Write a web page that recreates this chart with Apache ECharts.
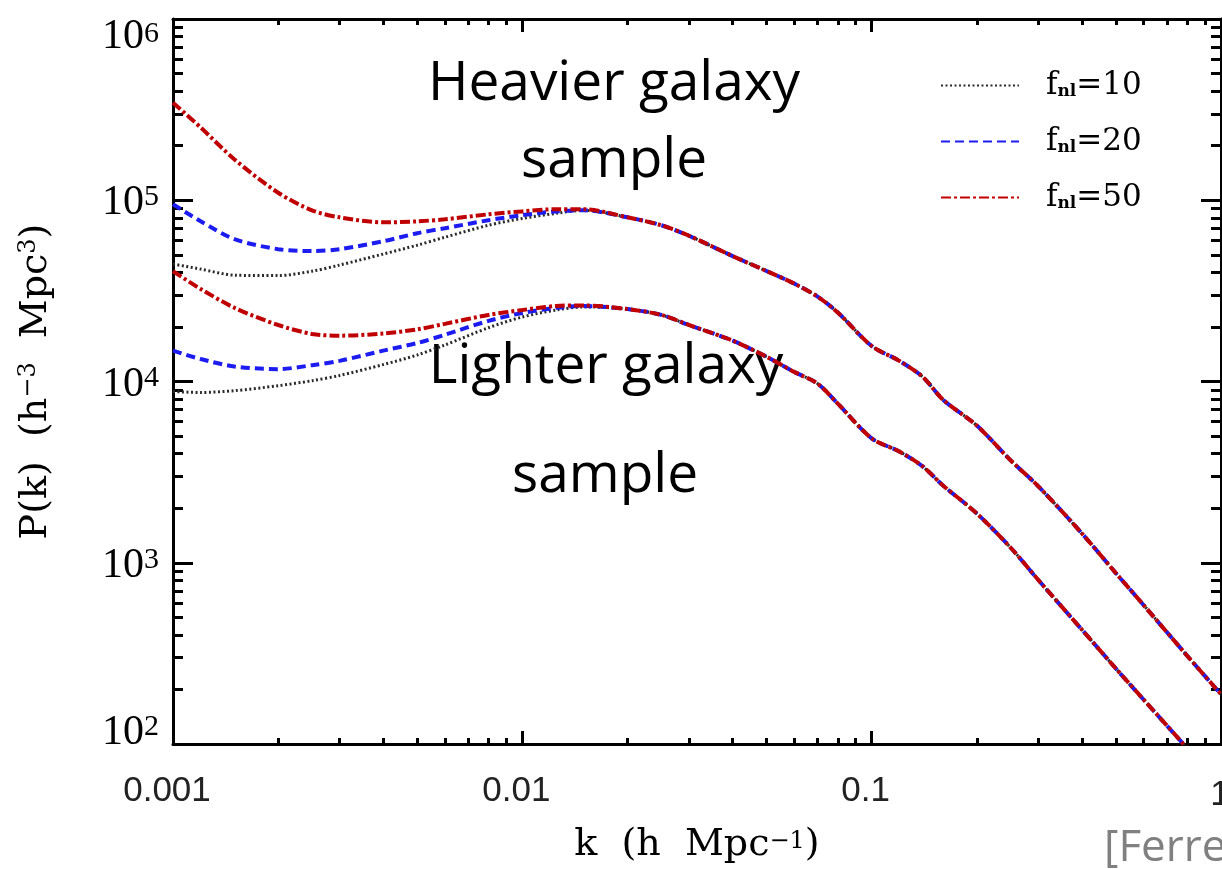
<!DOCTYPE html>
<html><head><meta charset="utf-8">
<script src="https://cdn.jsdelivr.net/npm/echarts@6/dist/echarts.min.js"></script>
<style>html,body{margin:0;padding:0;background:#fff}#c{width:1222px;height:869px}</style>
</head><body><div id="c"></div>
<script>
// ---- data (k in h/Mpc, P in h^-3 Mpc^3) ----
const kValues = [0.001, 0.0012, 0.0015, 0.002, 0.0025, 0.003, 0.004, 0.005, 0.006, 0.008, 0.01, 0.0125, 0.015,
                 0.02, 0.025, 0.03, 0.04, 0.05, 0.06, 0.07, 0.08, 0.1, 0.12, 0.14, 0.16, 0.2, 0.25, 0.3, 0.4, 0.5, 0.6, 0.8, 1.0];
// large-scale part (k = 0.001 ... 0.015)
const heavyFnl10 = [4.45e4, 4.17e4, 3.86e4, 3.84e4, 4.06e4, 4.39e4, 5.05e4, 5.65e4, 6.25e4, 7.28e4, 7.94e4, 8.47e4, 8.8e4];
const heavyFnl20 = [9.5e4, 7.66e4, 6.10e4, 5.37e4, 5.24e4, 5.37e4, 5.94e4, 6.58e4, 7.01e4, 7.76e4, 8.27e4, 8.68e4, 8.8e4];
const heavyFnl50 = [3.45e5, 2.52e5, 1.68e5, 1.10e5, 8.8e4, 8.05e4, 7.55e4, 7.65e4, 7.85e4, 8.36e4, 8.68e4, 8.92e4, 8.92e4];
const lightFnl10 = [8.8e3, 8.7e3, 8.9e3, 9.48e3, 1.01e4, 1.08e4, 1.24e4, 1.40e4, 1.59e4, 1.98e4, 2.27e4, 2.48e4, 2.58e4];
const lightFnl20 = [1.48e4, 1.33e4, 1.21e4, 1.17e4, 1.23e4, 1.30e4, 1.48e4, 1.63e4, 1.81e4, 2.16e4, 2.39e4, 2.55e4, 2.61e4];
const lightFnl50 = [4.06e4, 3.24e4, 2.55e4, 2.05e4, 1.83e4, 1.79e4, 1.84e4, 1.94e4, 2.08e4, 2.33e4, 2.48e4, 2.61e4, 2.63e4];
// small-scale part (k = 0.02 ... 1), identical for all f_nl
const heavyTail = [8.05e4, 7.28e4, 6.37e4, 4.92e4, 4.07e4, 3.47e4, 2.94e4, 2.40e4, 1.57e4, 1.30e4, 1.06e4, 7.94e3, 5.71e3, 3.67e3, 2.64e3, 1.45e3, 877, 585, 307, 188];
const lightTail = [2.51e4, 2.33e4, 2.05e4, 1.68e4, 1.37e4, 1.13e4, 9.73e3, 7.55e3, 4.86e3, 4.11e3, 3.40e3, 2.67e3, 1.87e3, 1.21e3, 803, 427, 261, 176, 94.7, 57.7];

const fnlValues = ['10', '20', '50'];
const xTickLabels = ['0.001', '0.01', '0.1', '1'];
const yTickExponents = ['2', '3', '4', '5', '6'];

// ---- styles ----
const seriesColors = ['#2a2a2a', '#1c1cf0', '#c00000'];
const dashPatterns = [[2, 2.5], [9, 5], [10, 3, 3, 3]];
const lineWidths = [3, 4, 4];

// minor tick positions in log10 space (for the tick-only helper axes)
const xMinorLog = [], yMinorLog = [];
[-3, -2, -1].forEach(d => { for (let m = 2; m <= 9; m++) xMinorLog.push(d + Math.log10(m)); });
[2, 3, 4, 5].forEach(d => { for (let m = 2; m <= 9; m++) yMinorLog.push(d + Math.log10(m)); });

const heavy = [heavyFnl10, heavyFnl20, heavyFnl50];
const light = [lightFnl10, lightFnl20, lightFnl50];

const series = [];
fnlValues.forEach((f, i) => {
  [heavy[i].concat(heavyTail), light[i].concat(lightTail)].forEach(vals => {
    series.push({
      type: 'line', name: 'fnl=' + f, xAxisIndex: 0, yAxisIndex: 0,
      data: kValues.map((k, j) => [k, vals[j]]),
      symbol: 'none', showSymbol: false, smooth: 0.3, silent: true,
      lineStyle: { color: seriesColors[i], width: lineWidths[i], type: dashPatterns[i], cap: 'butt' },
      itemStyle: { color: seriesColors[i] }
    });
  });
});

const black = '#000';
const noSplit = { splitLine: { show: false }, minorTick: { show: false }, minorSplitLine: { show: false } };

function xMajor(pos, label) {
  return Object.assign({
    type: 'log', logBase: 10, min: 0.001, max: 1, position: pos,
    axisLine: { show: true, onZero: false, lineStyle: { color: black, width: 3 } },
    axisTick: { show: true, inside: true, length: 13, lineStyle: { color: black, width: 3 } },
    axisLabel: label ? {
      show: true, margin: 30, padding: [0, 12, 0, 0], showMaxLabel: false,
      fontFamily: 'Liberation Sans', fontSize: 35, color: '#222',
      formatter: v => xTickLabels[Math.round(Math.log10(v)) + 3]
    } : { show: false }
  }, noSplit);
}
function xMinorAx(pos) {
  return Object.assign({
    type: 'value', min: -3, max: 0, position: pos,
    axisLine: { show: false, onZero: false },
    axisTick: { show: true, inside: true, length: 6, customValues: xMinorLog, lineStyle: { color: black, width: 3 } },
    axisLabel: { show: false }
  }, noSplit);
}
function yMajor(pos, label) {
  return Object.assign({
    type: 'log', logBase: 10, min: 100, max: 1e6, position: pos,
    axisLine: { show: true, onZero: false, lineStyle: { color: black, width: 3 } },
    axisTick: { show: true, inside: true, length: 20, lineStyle: { color: black, width: 3 } },
    axisLabel: label ? {
      show: true, margin: 14, color: '#000', verticalAlignMaxLabel: 'top',
      formatter: v => {
        const idx = Math.round(Math.log10(v)) - 2;
        const e = yTickExponents[idx];
        if (idx === 4) return '{bt|10}{st|' + e + '}';
        if (idx === 0) return '{b|10}{s|' + e + '}\n{g2| }';
        return '{g3| }\n{b|10}{s|' + e + '}';
      },
      rich: {
        b: { fontFamily: 'Liberation Serif', fontSize: 42, lineHeight: 42, color: '#000' },
        s: { fontFamily: 'Liberation Serif', fontSize: 30, lineHeight: 30, verticalAlign: 'top', color: '#000' },
        bt: { fontFamily: 'Liberation Serif', fontSize: 42, lineHeight: 36, color: '#000' },
        st: { fontFamily: 'Liberation Serif', fontSize: 30, lineHeight: 26, verticalAlign: 'top', color: '#000' },
        g2: { fontSize: 10, lineHeight: 22 },
        g3: { fontSize: 4, lineHeight: 6 }
      }
    } : { show: false }
  }, noSplit);
}
function yMinorAx(pos) {
  return Object.assign({
    type: 'value', min: 2, max: 6, position: pos,
    axisLine: { show: false, onZero: false },
    axisTick: { show: true, inside: true, length: 10, customValues: yMinorLog, lineStyle: { color: black, width: 3 } },
    axisLabel: { show: false }
  }, noSplit);
}

const xAxes = [xMajor('bottom', true), xMinorAx('bottom'), xMajor('top', false), xMinorAx('top')];
xAxes[0].name = 'k  (h  Mpc{sup|−1})';
xAxes[0].nameLocation = 'middle';
xAxes[0].nameGap = 86;
xAxes[0].nameTextStyle = { fontFamily: 'DejaVu Serif', fontSize: 38, lineHeight: 30, color: '#000',
  rich: { sup: { fontFamily: 'DejaVu Serif', fontSize: 24, lineHeight: 20, verticalAlign: 'top', color: '#000' } } };

const yAxes = [yMajor('left', true), yMinorAx('left'), yMajor('right', false), yMinorAx('right')];
yAxes[0].name = 'P(k)  (h{sup|−3}  Mpc{sup|3})';
yAxes[0].nameLocation = 'middle';
yAxes[0].nameGap = 118;
yAxes[0].nameRotate = 90;
yAxes[0].nameTextStyle = { fontFamily: 'DejaVu Serif', fontSize: 38, color: '#000',
  rich: { sup: { fontFamily: 'DejaVu Serif', fontSize: 24, verticalAlign: 'top', color: '#000' } } };

const chart = echarts.init(document.getElementById('c'));
chart.setOption({
  animation: false,
  grid: { left: 173, right: 1, top: 19, bottom: 122 },
  xAxis: xAxes,
  yAxis: yAxes,
  legend: {
    show: true, orient: 'vertical', left: 935, top: 65, itemWidth: 78, itemHeight: 14, itemGap: 25,
    selectedMode: false,
    data: fnlValues.map(f => 'fnl=' + f),
    itemStyle: { opacity: 0, borderWidth: 0 },
    formatter: name => '{f|f}{n|nl}{e|=' + name.split('=')[1] + '}',
    textStyle: {
      padding: [0, 0, 0, 22], color: '#000',
      rich: {
        f: { fontFamily: 'DejaVu Serif', fontSize: 31, lineHeight: 30, color: '#000' },
        n: { fontFamily: 'DejaVu Serif', fontSize: 17, fontWeight: 'bold', lineHeight: 17, verticalAlign: 'bottom', color: '#000' },
        e: { fontFamily: 'DejaVu Serif', fontSize: 31, lineHeight: 30, color: '#000' }
      }
    }
  },
  graphic: [
    { type: 'text', x: 614, y: 46, silent: true,
      style: { text: 'Heavier galaxy\nsample', font: '55px "Open Sans"', lineHeight: 77, fill: '#000', align: 'center', verticalAlign: 'top' } },
    { type: 'text', x: 606, y: 340, silent: true,
      style: { text: 'Lighter galaxy', font: '55px "Open Sans"', fill: '#000', align: 'center', verticalAlign: 'top' } },
    { type: 'text', x: 605, y: 449, silent: true,
      style: { text: 'sample', font: '55px "Open Sans"', fill: '#000', align: 'center', verticalAlign: 'top' } },
    { type: 'text', x: 1220, y: 795, silent: true,
      style: { text: xTickLabels[3], font: '35px "Liberation Sans"', fill: '#222', align: 'center', verticalAlign: 'middle' } },
    { type: 'text', x: 1104, y: 826, silent: true,
      style: { text: '[Ferreira et al.]', font: '44px "Open Sans"', fill: '#808080', align: 'left', verticalAlign: 'top' } }
  ],
  series: series
});
</script></body></html>
